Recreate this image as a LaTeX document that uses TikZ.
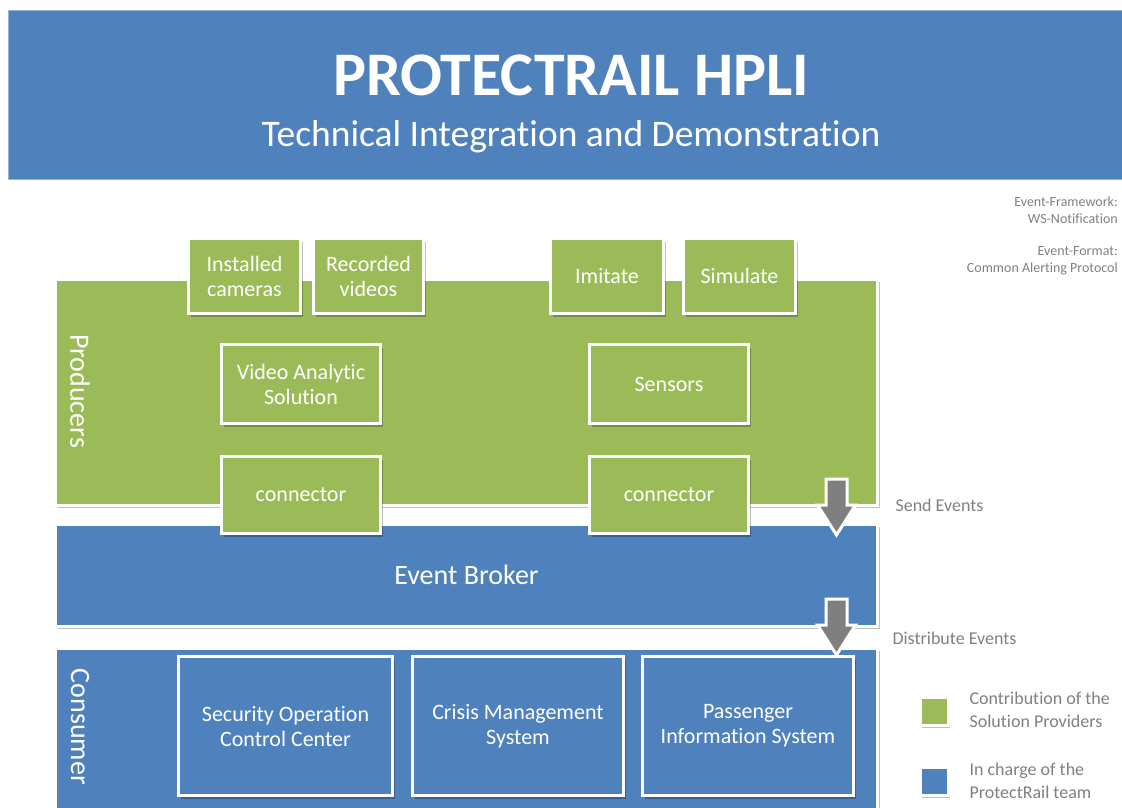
\documentclass[tikz,border=0pt]{standalone}
\usepackage{fontspec}
\setmainfont{Carlito}[Ligatures={NoCommon}, RawFeature={-liga}]
\usepackage{xcolor}
\usepackage{tikz}
\usetikzlibrary{positioning, shadows}

\definecolor{hpliblue}{HTML}{4F81BD}
\definecolor{hpligreen}{HTML}{9BBB59}
\definecolor{arrowgray}{HTML}{7F7F7F}
\definecolor{notegray}{HTML}{808080}

\begin{document}
\begin{tikzpicture}[
      x=1pt, y=-1pt,
      shade/.style={drop shadow={shadow xshift=2pt, shadow yshift=-3pt, opacity=0.25, fill=black}},
      band/.style={draw=white, line width=3pt, shade, inner sep=0pt, minimum width=822pt, text=white, font=\fontsize{28}{31}\selectfont},
      box/.style={draw=white, line width=3pt, shade, inner sep=0pt, align=center, text=white, font=\fontsize{22}{25}\selectfont},
      gbox/.style={box, fill=hpligreen},
      bbox/.style={box, fill=hpliblue},
      side/.style={text=white, font=\fontsize{28}{31}\selectfont, rotate=-90},
      note/.style={text=notegray, font=\fontsize{14}{17}\selectfont, align=right, anchor=east, inner sep=0pt},
      legend/.style={text=notegray, font=\fontsize{18}{22.5}\selectfont, align=left, anchor=west},
      swatch/.style={draw=white, line width=3pt, shade, minimum size=28pt, inner sep=0pt},
      bigarrow/.style={fill=arrowgray, draw=white, line width=3pt, line join=miter}
    ]
    \useasboundingbox (0,0) rectangle (1122,807);

    % title banner
    \node[fill=hpliblue, draw=hpliblue!60!white, line width=0.8pt, minimum width=1114pt, minimum height=169pt, inner sep=0pt] (banner) at (565,94.5) {};
    \node[text=white, font=\fontsize{62}{68}\selectfont\bfseries] (title) at (571,75) {PROTECTRAIL HPLI};
    \node[text=white, font=\fontsize{37.5}{42}\selectfont] (subtitle) at (571,137) {Technical Integration and Demonstration};

    \node[note] (framework) at (1118,210) {Event-Framework:\\WS-Notification};
    \node[note] (format) at (1118,261) {Event-Format:\\Common Alerting Protocol};

    % layers
    \node[band, fill=hpligreen, minimum height=226pt] (prod) at (466.5,392) {};
    \node[band, fill=hpliblue, minimum height=102pt] (broker) at (466.5,575) {Event Broker};
    \node[band, fill=hpliblue, minimum height=166pt] (cons) at (466.5,731) {};
    \node[side] (prodlabel) at (80,391) {Producers};
    \node[side] (conslabel) at (80,727) {Consumer};

    % producers
    \node[gbox, minimum width=112pt, minimum height=75pt] (cams) at (244.5,276) {Installed\\cameras};
    \node[gbox, minimum width=110pt, minimum height=75pt] (videos) at (368.5,276) {Recorded\\videos};
    \node[gbox, minimum width=113pt, minimum height=75pt] (imitate) at (607,276) {Imitate};
    \node[gbox, minimum width=112pt, minimum height=75pt] (simulate) at (739.5,276) {Simulate};
    \node[gbox, minimum width=159pt, minimum height=79pt] (vas) at (301,384) {Video Analytic\\Solution};
    \node[gbox, minimum width=159pt, minimum height=79pt] (sensors) at (669,384) {Sensors};
    \node[gbox, minimum width=159pt, minimum height=77pt] (conna) at (301,495) {connector};
    \node[gbox, minimum width=159pt, minimum height=77pt] (connb) at (669,495) {connector};

    % consumers
    \node[bbox, minimum width=214pt, minimum height=139pt] (socc) at (285.5,726) {Security Operation\\Control Center};
    \node[bbox, minimum width=211pt, minimum height=139pt] (cms) at (518,726) {Crisis Management\\System};
    \node[bbox, minimum width=211pt, minimum height=139pt] (pis) at (748,726) {Passenger\\Information System};

    % event flow
    \coordinate (send) at (836.5,479);
    \coordinate (distribute) at (836.5,599);
    \draw[bigarrow] ([xshift=-10.5pt]send) -- ++(21,0) -- ++(0,26) -- ++(8.5,0) -- ++(-19,30) -- ++(-19,-30) -- ++(8.5,0) -- cycle;
    \draw[bigarrow] ([xshift=-10.5pt]distribute) -- ++(21,0) -- ++(0,26) -- ++(8.5,0) -- ++(-19,30) -- ++(-19,-30) -- ++(8.5,0) -- cycle;
    \node[legend] (sendlabel) at (892,505) {Send Events};
    \node[legend] (distlabel) at (889,638) {Distribute Events};

    % legend
    \node[swatch, fill=hpligreen] (keygreen) at (934,711) {};
    \node[swatch, fill=hpliblue] (keyblue) at (934,781) {};
    \node[legend] (keygreentext) at (966,710) {Contribution of the\\Solution Providers};
    \node[legend] (keybluetext) at (966,781) {In charge of the\\ProtectRail team};
  \end{tikzpicture}
\end{document}
